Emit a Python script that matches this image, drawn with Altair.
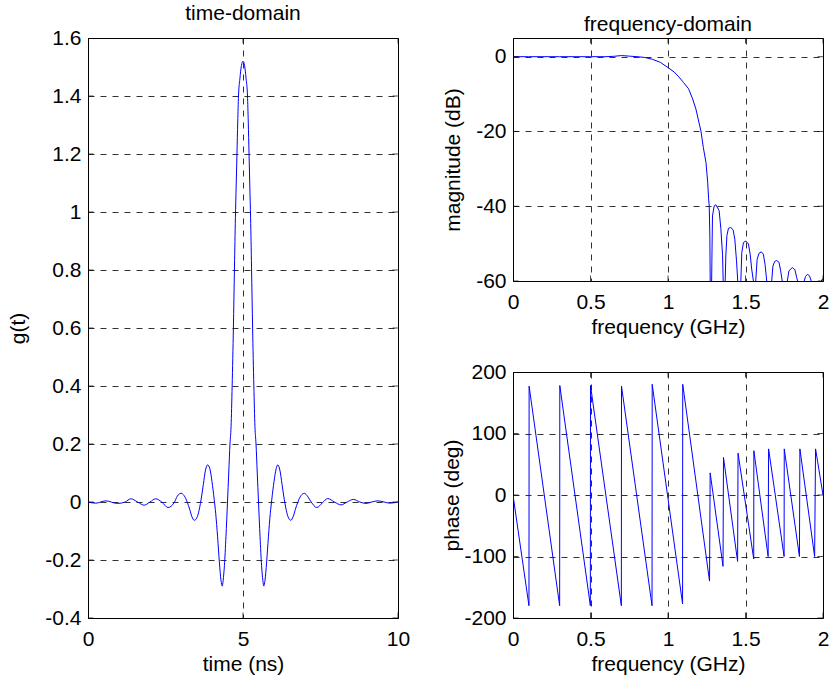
import altair as alt
import pandas as pd

# ---------------- data ----------------
t_ns = [0.0, 0.25, 0.57, 0.95, 1.2, 1.38, 1.6, 1.81, 2.0, 2.18, 2.38, 2.58, 2.78, 2.88, 3.0, 3.1,
        3.2, 3.28, 3.35, 3.43, 3.53, 3.6, 3.65, 3.72, 3.79, 3.86, 3.93, 4.0, 4.07, 4.12, 4.18,
        4.24, 4.29, 4.33, 4.36, 4.4, 4.45, 4.5, 4.54, 4.58, 4.615, 4.65, 4.69, 4.725, 4.755,
        4.78, 4.805, 4.83, 4.855, 4.9, 4.95, 5.0,
        5.05, 5.1, 5.145, 5.17, 5.195, 5.22, 5.245, 5.275, 5.31, 5.35, 5.385, 5.42, 5.46, 5.5,
        5.55, 5.6, 5.64, 5.67, 5.71, 5.76, 5.82, 5.88, 5.93, 6.0, 6.07, 6.12, 6.19, 6.26, 6.33,
        6.38, 6.45, 6.54, 6.62, 6.69, 6.77, 6.87, 6.98, 7.08, 7.2, 7.38, 7.56, 7.73, 7.95, 8.16,
        8.36, 8.56, 8.77, 8.97, 9.15, 9.35, 9.55, 9.73, 10.0]
g_t = [0.0, -0.004, 0.004, -0.005, 0.0, 0.011, 0.0, -0.011, 0.0, 0.011, 0.0, -0.019, -0.002, 0.02, 0.03, 0.022,
       0.0, -0.025, -0.05, -0.063, -0.05, -0.02, 0.01, 0.06, 0.11, 0.128, 0.115, 0.07, 0.01, -0.04, -0.12,
       -0.21, -0.27, -0.29, -0.27, -0.22, -0.12, 0.0, 0.1, 0.2, 0.26, 0.4, 0.6, 0.81, 0.98,
       1.09, 1.2, 1.31, 1.4, 1.46, 1.505, 1.52,
       1.505, 1.46, 1.4, 1.31, 1.2, 1.09, 0.98, 0.81, 0.6, 0.4, 0.26, 0.2, 0.1, 0.0,
       -0.12, -0.22, -0.27, -0.29, -0.27, -0.21, -0.12, -0.04, 0.01, 0.07, 0.115, 0.128, 0.11, 0.06, 0.01,
       -0.02, -0.05, -0.063, -0.05, -0.025, 0.0, 0.022, 0.03, 0.02, 0.0, -0.019, -0.003, 0.012, 0.0, -0.01,
       0.0, 0.009, 0.0, -0.005, 0.0, 0.004, 0.0, -0.004, 0.0]

mag_f = [0.0, 0.1, 0.2, 0.3, 0.4, 0.5, 0.6, 0.65, 0.7, 0.75, 0.8, 0.85, 0.9, 0.95, 1.0, 1.04, 1.07,
         1.1, 1.133, 1.159, 1.18, 1.202, 1.213, 1.228, 1.245, 1.256, 1.262, 1.266, 1.27, 1.276,
         1.283, 1.287, 1.298, 1.309, 1.33, 1.341, 1.352, 1.356, 1.362,
         1.369, 1.373, 1.38, 1.39, 1.405, 1.42, 1.431, 1.442, 1.45, 1.46,
         1.47, 1.476, 1.487, 1.502, 1.519, 1.53, 1.54, 1.551, 1.558,
         1.566, 1.575, 1.587, 1.602, 1.615, 1.626, 1.637, 1.653,
         1.669, 1.677, 1.688, 1.701, 1.716, 1.727, 1.737, 1.753,
         1.77, 1.78, 1.802, 1.819, 1.83, 1.836, 1.857,
         1.879, 1.887, 1.9, 1.913, 1.924, 1.956,
         1.988, 2.0]
mag_db = [0.0, 0.0, 0.0, 0.0, 0.0, 0.0, 0.0, 0.1, 0.3, 0.15, 0.0, -0.2, -0.7, -1.5, -2.9, -4.1, -5.4,
          -6.9, -8.6, -11.3, -14.0, -18.0, -20.0, -24.3, -28.3, -33.6, -38.0, -40.0, -48.0, -80.0,
          -55.0, -42.6, -39.9, -39.6, -41.2, -46.0, -53.0, -60.0, -80.0,
          -60.0, -53.3, -47.9, -45.9, -45.7, -46.3, -48.8, -54.6, -60.0, -80.0,
          -60.0, -52.4, -49.7, -49.3, -50.1, -52.8, -56.8, -60.0, -80.0,
          -60.0, -54.2, -52.6, -52.2, -52.8, -55.5, -60.0, -80.0,
          -60.0, -56.0, -54.8, -54.5, -55.0, -57.3, -60.0, -80.0,
          -60.0, -57.3, -56.4, -57.0, -59.0, -60.0, -80.0,
          -60.0, -58.8, -58.2, -58.6, -60.0, -80.0,
          -60.0, -59.3]

ph_f = [0.0, 0.103, 0.104, 0.301, 0.302, 0.499, 0.5, 0.699, 0.7, 0.897, 0.898, 1.094, 1.095,
        1.268, 1.272, 1.355, 1.358, 1.449, 1.452, 1.553, 1.554, 1.646, 1.649, 1.749, 1.75,
        1.848, 1.851, 1.946, 1.952, 1.965, 2.0]
ph_deg = [0, -180, 177, -180, 178, -180, 178, -180, 177, -180, 180, -177, 180,
          -140, 36, -116, 61, -108, 68, -104, 72, -100, 75, -100, 75,
          -100, 75, -100, 75, 55, 0]

t_ticks = [0, 5, 10]
g_ticks = [-0.4, -0.2, 0, 0.2, 0.4, 0.6, 0.8, 1, 1.2, 1.4, 1.6]
f_ticks = [0, 0.5, 1, 1.5, 2]
db_ticks = [-60, -40, -20, 0]
ph_ticks = [-200, -100, 0, 100, 200]

t_dom = [0, 10]
g_dom = [-0.4, 1.6]
f_dom = [0, 2]
db_dom = [-60, 5]
ph_dom = [-200, 200]

# ---------------- styling ----------------
FONT = "Liberation Sans"
BLUE = "#0000ff"
FS = 21
LABEL_EXPR = "datum.value < 0 ? '-' + format(-datum.value, '~g') : format(datum.value, '~g')"


def make_axis(values, title, orient, tpad):
    common = dict(values=values, title=title, labelExpr=LABEL_EXPR, grid=True,
                  gridDash=[6, 6], gridColor="black", gridOpacity=0.8, gridWidth=1,
                  tickSize=0, domain=False, labelFont=FONT, labelFontSize=FS,
                  labelColor="black", titleFont=FONT, titleFontSize=FS,
                  titleFontWeight="normal", titleColor="black", labelFlush=False,
                  labelOverlap=False, titlePadding=tpad)
    if orient == "x":
        return alt.Axis(labelPadding=10, **common)
    return alt.Axis(labelPadding=7, **common)


def panel(df, xf, yf, xdom, ydom, xticks, yticks, xtitle, ytitle, w, h, interp, ytpad):
    X = alt.X(f"{xf}:Q", scale=alt.Scale(domain=xdom, nice=False, zero=False),
              axis=make_axis(xticks, xtitle, "x", 4))
    Y = alt.Y(f"{yf}:Q", scale=alt.Scale(domain=ydom, nice=False, zero=False),
              axis=make_axis(yticks, ytitle, "y", ytpad))
    line = alt.Chart(df).mark_line(color=BLUE, strokeWidth=1, clip=True,
                                   interpolate=interp).encode(x=X, y=Y)
    xt = pd.DataFrame({xf: xticks * 2,
                       yf: [ydom[0]] * len(xticks) + [ydom[1]] * len(xticks)})
    yt = pd.DataFrame({xf: [xdom[0]] * len(yticks) + [xdom[1]] * len(yticks),
                       yf: yticks * 2})
    tx = alt.Chart(xt).mark_tick(orient="vertical", size=11, thickness=1,
                                 color="black", clip=True).encode(x=X, y=Y)
    ty = alt.Chart(yt).mark_tick(orient="horizontal", size=11, thickness=1,
                                 color="black", clip=True).encode(x=X, y=Y)
    return alt.layer(line, tx, ty).properties(width=w, height=h)


def ttl(text):
    return alt.Title(text, font=FONT, fontSize=FS, fontWeight="normal",
                     color="black", offset=3)


time_df = pd.DataFrame({"t": t_ns, "g": g_t})
mag_df = pd.DataFrame({"f": mag_f, "m": mag_db})
ph_df = pd.DataFrame({"f": ph_f, "p": ph_deg})

left = panel(time_df, "t", "g", t_dom, g_dom, t_ticks, g_ticks,
             "time (ns)", "g(t)", 310, 580, "monotone", 16).properties(title=ttl("time-domain"))
top = panel(mag_df, "f", "m", f_dom, db_dom, f_ticks, db_ticks,
            "frequency (GHz)", "magnitude (dB)", 310, 243, "linear", 12).properties(
    title=ttl("frequency-domain"))
bottom = panel(ph_df, "f", "p", f_dom, ph_dom, f_ticks, ph_ticks,
               "frequency (GHz)", "phase (deg)", 310, 246, "linear", 1)

right = alt.vconcat(top, bottom, spacing=91, bounds="flush").resolve_scale(
    x="independent", y="independent")

chart = alt.hconcat(left, right, spacing=115, bounds="flush").resolve_scale(
    x="independent", y="independent").properties(
    padding={"left": 7, "top": 2, "right": 0, "bottom": 0},
    background="white").configure_view(stroke="black", strokeWidth=1)

chart.save("out.html", embed_options={"renderer": "svg", "actions": False})
